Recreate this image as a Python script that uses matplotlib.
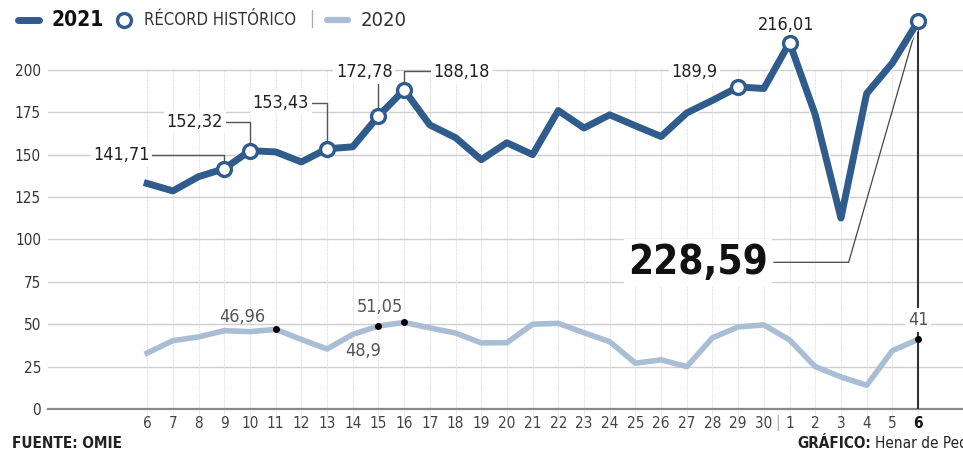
import matplotlib
matplotlib.use('Agg')
import matplotlib.pyplot as plt
import matplotlib.patheffects as pe
from matplotlib.lines import Line2D

plt.rcParams['font.family'] = ['DejaVu Sans']
plt.rcParams['font.stretch'] = 'condensed'

# days: 6-30 September, 1-6 October
days = [str(d) for d in range(6, 31)] + [str(d) for d in range(1, 7)]
v2021 = [133, 128.6, 137, 141.71, 152.32, 151.6, 145.7, 153.43, 154.6, 172.78,
         188.18, 167.5, 160, 147, 157, 150, 176, 165.7, 173.5, 167,
         160.7, 174.6, 182, 189.9, 189, 216.01, 173.5, 112.6, 186, 204, 228.59]
v2020 = [33, 40.3, 42.5, 46.2, 45.6, 46.96, 41, 35.4, 44, 48.9,
         51.05, 47.8, 44.8, 39, 39.1, 50, 50.5, 45, 39.7, 27,
         29, 25, 42, 48.4, 49.6, 40.7, 25, 18.9, 14, 34.4, 41]
record_idx = [3, 4, 7, 9, 10, 23, 25, 30]   # record historico markers (2021)
dot_idx = [5, 9, 10, 30]                     # labelled 2020 points
yticks = [0, 25, 50, 75, 100, 125, 150, 175, 200]

C21 = '#2f5b8d'
C20 = '#a9bdd4'
GRID = '#cfcfcf'


def fmt(v):
    return ('%g' % v).replace('.', ',')


W, H = 963, 453
fig = plt.figure(figsize=(W / 100, H / 100), dpi=100)
ax = fig.add_axes([48 / W, (H - 409) / H, 915 / W, 407 / H])
x = list(range(len(days)))
ax.set_xlim(-3.86, 31.75)
ax.set_ylim(0, 240)

# grid
for y in yticks[1:]:
    ax.axhline(y, color=GRID, lw=1, zorder=0)
for i in x:
    ax.plot([i, i], [-8, 200], color='#dadada', lw=0.8, ls=(0, (1, 1)),
            zorder=0, clip_on=False)

for s in ['top', 'right', 'left']:
    ax.spines[s].set_visible(False)
ax.spines['bottom'].set_color('#8a8a8a')
ax.spines['bottom'].set_linewidth(1.6)
ax.set_yticks(yticks)
ax.set_yticklabels([str(t) for t in yticks], fontsize=11, color='#333333')
ax.set_xticks(x)
ax.set_xticklabels(days, fontsize=11, color='#444444')
ax.tick_params(axis='y', length=0, pad=5)
ax.tick_params(axis='x', length=0, pad=5)
ax.get_xticklabels()[-1].set_fontweight('bold')
ax.get_xticklabels()[-1].set_color('#111111')
ax.text(24.55, -8, '|', ha='center', va='center', fontsize=11, color='#aaaaaa',
        clip_on=False)

# vertical line at last day
ax.plot([30, 30], [0, v2021[-1]], color='#333333', lw=1.5, zorder=3)

# series
ax.plot(x, v2020, color=C20, lw=4, solid_joinstyle='round', zorder=4)
ax.plot([x[i] for i in dot_idx], [v2020[i] for i in dot_idx], 'o', color='black',
        ms=4, zorder=6)
ax.plot(x, v2021, color=C21, lw=5, solid_joinstyle='round', zorder=5,
        path_effects=[pe.Stroke(linewidth=7, foreground='white'), pe.Normal()])
ax.plot([x[i] for i in record_idx], [v2021[i] for i in record_idx], 'o',
        mfc='white', mec=C21, mew=2.4, ms=10, zorder=7, clip_on=False)

lead = dict(color='#555555', lw=1, zorder=4)
box = dict(boxstyle='square,pad=0.15', fc='white', ec='none')
lab = dict(fontsize=13, color='#222222', zorder=8)

# 141,71
ax.plot([0.2, 3, 3], [150, 150, v2021[3]], **lead)
ax.text(-1.0, 150, fmt(v2021[3]), ha='center', va='center', bbox=box, **lab)
# 152,32
ax.plot([3.0, 4, 4], [169.5, 169.5, v2021[4]], **lead)
ax.text(1.85, 169.5, fmt(v2021[4]), ha='center', va='center', bbox=box, **lab)
# 153,43
ax.plot([6.3, 7, 7], [180.5, 180.5, v2021[7]], **lead)
ax.text(5.2, 180.5, fmt(v2021[7]), ha='center', va='center', bbox=box, **lab)
# 172,78
ax.plot([9, 9], [192, v2021[9]], **lead)
ax.text(8.45, 198.5, fmt(v2021[9]), ha='center', va='center', bbox=box, **lab)
# 188,18
ax.plot([11.0, 10, 10], [199.5, 199.5, v2021[10]], **lead)
ax.text(11.15, 198.5, fmt(v2021[10]), ha='left', va='center', bbox=box, **lab)
# 189,9
ax.text(21.3, 199, fmt(v2021[23]), ha='center', va='center', bbox=box, **lab)
# 216,01
ax.text(24.85, 226.5, fmt(v2021[25]), ha='center', va='center', **lab)
# 228,59
ax.plot([24.4, 27.3, 30], [86.5, 86.5, v2021[30]], color='#444444', lw=0.9, zorder=4)
ax.text(21.45, 86, fmt(v2021[30]), ha='center', va='center', fontsize=29,
        fontweight='bold', color='#111111', zorder=8,
        bbox=dict(boxstyle='square,pad=0.1', fc='white', ec='none'))

# 2020 labels
lab20 = dict(fontsize=13, color='#555555', zorder=8)
ax.text(3.7, 54.5, fmt(v2020[5]), ha='center', va='center', **lab20)
ax.text(9.05, 60, fmt(v2020[10]), ha='center', va='center', **lab20)
ax.text(8.4, 34, fmt(v2020[9]), ha='center', va='center', **lab20)
ax.text(30, 52.5, fmt(v2020[30]), ha='center', va='center', bbox=box, **lab20)


# legend (figure pixel coords)
def fx(px):
    return px / W


def fy(py):
    return 1 - py / H


tf = fig.transFigure
fig.add_artist(Line2D([fx(18), fx(39)], [fy(20), fy(20)], color=C21, lw=5,
                      solid_capstyle='round', transform=tf))
fig.text(fx(51), fy(20), '2021', fontsize=15, fontweight='bold', color='#111111',
         va='center', ha='left')
fig.add_artist(Line2D([fx(124)], [fy(20)], marker='o', mfc='white', mec=C21,
                      mew=2.4, ms=10, transform=tf))
fig.text(fx(144), fy(20), 'RÉCORD HISTÓRICO', fontsize=12, color='#333333',
         va='center', ha='left')
fig.text(fx(312), fy(19), '|', fontsize=12, color='#aaaaaa', va='center', ha='center')
fig.add_artist(Line2D([fx(327), fx(348)], [fy(20), fy(20)], color=C20, lw=4.5,
                      solid_capstyle='round', transform=tf))
fig.text(fx(361), fy(20), '2020', fontsize=14.5, color='#333333', va='center', ha='left')

# footer
fig.text(fx(12), fy(443), 'FUENTE: OMIE', fontsize=11, fontweight='bold',
         color='#222222', va='center', ha='left')
t1 = fig.text(fx(797), fy(443), 'GRÁFICO:', fontsize=11, fontweight='bold',
              color='#222222', va='center', ha='left')
fig.canvas.draw()
bb = t1.get_window_extent()
fig.text(fx(bb.x1 + 4), fy(443), 'Henar de Pedro', fontsize=11, color='#222222',
         va='center', ha='left')

fig.savefig('out.png', dpi=100)
